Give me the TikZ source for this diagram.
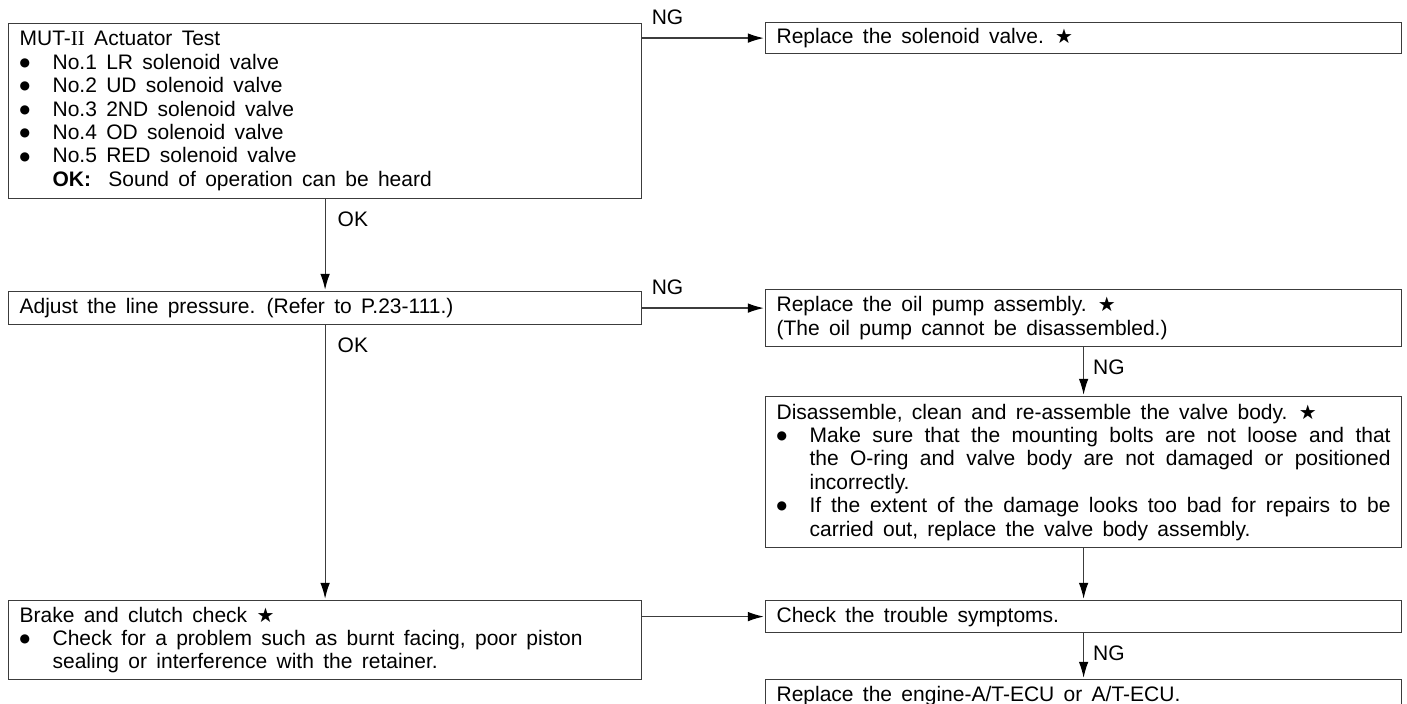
\documentclass[tikz,border=0pt]{standalone}
\usepackage{fontspec}
\setmainfont{Liberation Sans}[WordSpace=1.6]
\newfontfamily\romfont{Liberation Serif}
\newfontfamily\symfont{DejaVu Sans}
\usetikzlibrary{arrows.meta,positioning}
\definecolor{LineGray}{HTML}{3C3C3C}
\newcommand{\starmark}{{\symfont\fontsize{10}{10}\selectfont ★}}
\newcommand{\itm}{\makebox[16.5pt][l]{\raisebox{1.4pt}{\symfont\fontsize{6}{6}\selectfont ●}}}
\newcommand{\ind}{\hspace*{16.5pt}}
\newcommand{\jline}[1]{\makebox[290.5pt][s]{#1}}
\tikzset{
  stepbox/.style  = {draw=LineGray, line width=0.6pt, anchor=north west, align=flush left,
                     font=\fontsize{10.5}{11.7}\selectfont, inner xsep=5.5pt, inner ysep=0pt},
  leftbox/.style  = {stepbox, minimum width=316.5pt, text width=305.5pt},
  rightbox/.style = {stepbox, minimum width=318pt, text width=307pt},
  flow/.style     = {-{Latex[length=8pt,width=4.8pt,color=black]}, draw=LineGray,
                     line width=0.6pt, shorten >=0.6pt},
  lbl/.style      = {font=\fontsize{10.5}{11.7}\selectfont, inner sep=0pt},
  lblh/.style     = {lbl, pos=0, anchor=south west, xshift=4.5pt, yshift=6.5pt},
  lblv/.style     = {lbl, pos=0, anchor=north west, xshift=6pt, yshift=-6pt},
}
\begin{document}
\begin{tikzpicture}[x=0.5pt, y=-0.5pt]
  \useasboundingbox (0,0) rectangle (1407,704);
  \node[leftbox, minimum height=87.5pt] (T) at (8,23) {MUT-{\romfont II} Actuator Test\\
    \itm No.1 LR solenoid valve\\
    \itm No.2 UD solenoid valve\\
    \itm No.3 2ND solenoid valve\\
    \itm No.4 OD solenoid valve\\
    \itm No.5 RED solenoid valve\\
    \ind\textbf{OK:}\hspace{4pt} Sound of operation can be heard};
  \node[leftbox, minimum height=16.5pt] (A) at (8,291) {Adjust the line pressure. (Refer to P.23-111.)};
  \node[leftbox, minimum height=39.5pt] (B) at (8,600) {Brake and clutch check \starmark\\
    \itm Check for a problem such as burnt facing, poor piston\\
    \ind sealing or interference with the retainer.};
  \node[rightbox, minimum height=15.5pt] (S1) at (765,22) {Replace the solenoid valve. \starmark};
  \node[rightbox, minimum height=28.5pt] (S2) at (765,289) {Replace the oil pump assembly. \starmark\\
    (The oil pump cannot be disassembled.)};
  \node[rightbox, minimum height=75.5pt] (S3) at (765,396) {Disassemble, clean and re-assemble the valve body. \starmark\\
    \itm\jline{Make sure that the mounting bolts are not loose and that}\\
    \ind\jline{the O-ring and valve body are not damaged or positioned}\\
    \ind incorrectly.\\
    \itm\jline{If the extent of the damage looks too bad for repairs to be}\\
    \ind carried out, replace the valve body assembly.};
  \node[rightbox, minimum height=16pt] (S4) at (765,600) {Check the trouble symptoms.};
  \node[rightbox, minimum height=16.5pt] (S5) at (765,679) {Replace the engine-A/T-ECU or A/T-ECU.};
  \draw[flow] (T.east |- S1.west) -- node[lblh]{NG} (S1.west);
  \draw[flow] (T.south) -- node[lblv]{OK} (A.north);
  \draw[flow] (A.east) -- node[lblh]{NG} (A.east -| S2.west);
  \draw[flow] (A.south) -- node[lblv]{OK} (B.north);
  \draw[flow] (B.east |- S4.west) -- (S4.west);
  \draw[flow] (S2.south) -- node[lblv, xshift=-1.5pt]{NG} (S3.north);
  \draw[flow] (S3.south) -- (S4.north);
  \draw[flow] (S4.south) -- node[lblv, xshift=-1.5pt]{NG} (S5.north);
\end{tikzpicture}
\end{document}
